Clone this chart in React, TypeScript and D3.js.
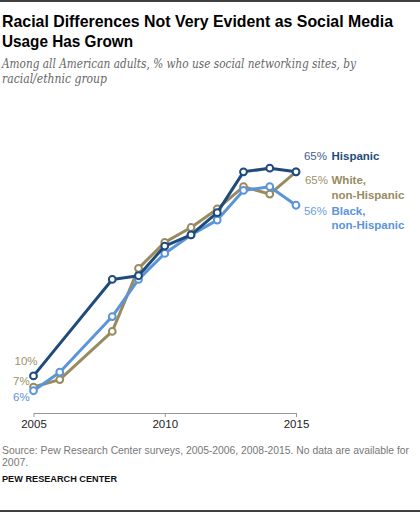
import { useEffect, useRef } from 'react';
import * as d3 from 'd3';

// years surveyed (no data for 2007)
const years = [2005, 2006, 2008, 2009, 2010, 2011, 2012, 2013, 2014, 2015];
const hispanic = [10, null, 36, 37, 45, 48, 54, 65, 66, 65];
const white = [7, 9, 22, 39, 46, 50, 55, 61, 59, 65];
const black = [6, 11, 26, 36, 43, 48, 52, 60, 61, 56];
const xTicks = [2005, 2010, 2015];

const NAVY = '#1f4b7c';
const TAN = '#988b5f';
const LBLUE = '#5b94d8';

const W = 420;
const H = 513;

export default function App() {
  const axisRef = useRef<SVGGElement>(null);

  const x = d3.scaleLinear().domain([2005, 2015]).range([33.5, 296]);
  const y = d3.scaleLinear().domain([0, 100]).range([413, 42]);

  useEffect(() => {
    document.body.style.margin = '0';
    if (!axisRef.current) return;
    const g = d3.select(axisRef.current);
    g.selectAll('*').remove();
    g.call(
      d3.axisBottom(x)
        .tickValues(xTicks)
        .tickFormat(d3.format('d'))
        .tickSize(4)
        .tickSizeOuter(0)
    );
    g.select('.domain').attr('stroke', '#999');
    g.selectAll('.tick line').attr('stroke', '#999');
    g.selectAll('.tick text')
      .attr('fill', '#222')
      .attr('font-size', 11.5)
      .attr('font-family', 'Liberation Sans, Arial, sans-serif');
  }, []);

  const line = d3.line<[number, number | null]>()
    .defined(d => d[1] !== null)
    .x(d => x(d[0]))
    .y(d => y(d[1] as number));

  const series = [
    { name: 'white', values: white, color: TAN },
    { name: 'black', values: black, color: LBLUE },
    { name: 'hispanic', values: hispanic, color: NAVY },
  ];

  const labelFont = 'Liberation Sans, Arial, sans-serif';

  return (
    <svg width={W} height={H} style={{ display: 'block' }}>
      <rect width={W} height={H} fill="#fff" />
      <line x1={0} x2={W} y1={1} y2={1} stroke="#000" strokeWidth={1.5} />

      <g fontFamily="Liberation Sans, Arial, sans-serif" fontWeight="bold" fontSize={16.5} fill="#000">
        <text x={2} y={27} textLength={391} lengthAdjust="spacingAndGlyphs">
          Racial Differences Not Very Evident as Social Media
        </text>
        <text x={2} y={47} textLength={131} lengthAdjust="spacingAndGlyphs">
          Usage Has Grown
        </text>
      </g>
      <g fontFamily="DejaVu Serif, Georgia, serif" fontStyle="italic" fontSize={12} fill="#666">
        <text x={2} y={68} textLength={354} lengthAdjust="spacingAndGlyphs">
          Among all American adults, % who use social networking sites, by
        </text>
        <text x={2} y={83} textLength={105} lengthAdjust="spacingAndGlyphs">
          racial/ethnic group
        </text>
      </g>

      <g ref={axisRef} transform={`translate(0,${y(0)})`} />

      {series.map(s => {
        const pts = years.map((yr, i) => [yr, s.values[i]] as [number, number | null]);
        const defined = pts.filter(p => p[1] !== null);
        return (
          <g key={s.name}>
            <path
              d={line(defined) || ''}
              fill="none"
              stroke={s.color}
              strokeWidth={3}
              strokeLinejoin="round"
            />
            {defined.map(p => (
              <circle
                key={p[0]}
                cx={x(p[0])}
                cy={y(p[1] as number)}
                r={3.4}
                fill="#fff"
                stroke={s.color}
                strokeWidth={2}
              />
            ))}
          </g>
        );
      })}

      {/* start labels */}
      <g fontFamily={labelFont} fontSize={11.5}>
        <text x={14.5} y={365} fill="#a0916e">10%</text>
        <text x={13} y={384.5} fill="#999160">7%</text>
        <text x={13} y={401} fill={LBLUE}>6%</text>
      </g>

      {/* end labels */}
      <g fontFamily={labelFont} fontSize={11.5}>
        <text x={327} y={160} textAnchor="end" fill="#3d5f8a">65%</text>
        <text x={331.5} y={160} fontWeight="bold" fill={NAVY}>Hispanic</text>

        <text x={328} y={184} textAnchor="end" fill="#a0916e">65%</text>
        <text x={331.5} y={184} fontWeight="bold" fill={TAN}>White,</text>
        <text x={331.5} y={198.5} fontWeight="bold" fill={TAN}>non-Hispanic</text>

        <text x={327} y={215} textAnchor="end" fill="#6a9fdc">56%</text>
        <text x={331.5} y={215} fontWeight="bold" fill={LBLUE}>Black,</text>
        <text x={331.5} y={229} fontWeight="bold" fill={LBLUE}>non-Hispanic</text>
      </g>

      <g fontFamily={labelFont} fontSize={10.5} fill="#777">
        <text x={2} y={453.5} textLength={407} lengthAdjust="spacingAndGlyphs">
          Source: Pew Research Center surveys, 2005-2006, 2008-2015.   No data are available for
        </text>
        <text x={2} y={465.5}>2007.</text>
      </g>
      <text x={2} y={482} fontFamily={labelFont} fontWeight="bold" fontSize={9.5} fill="#111"
        textLength={115} lengthAdjust="spacingAndGlyphs">
        PEW RESEARCH CENTER
      </text>
      <line x1={0} x2={W} y1={511} y2={511} stroke="#000" strokeWidth={1.5} />
    </svg>
  );
}
